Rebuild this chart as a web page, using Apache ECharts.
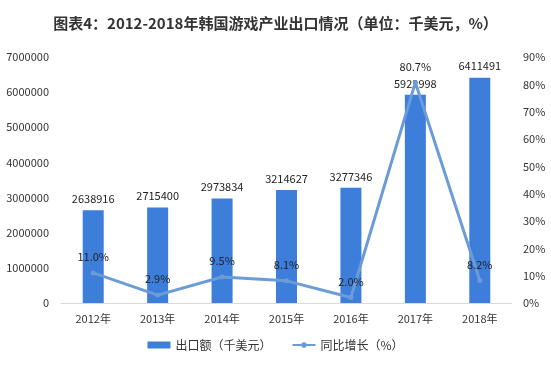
<!DOCTYPE html>
<html><head><meta charset="utf-8">
<script src="https://cdn.jsdelivr.net/npm/echarts@6/dist/echarts.min.js"></script>
<style>html,body{margin:0;padding:0;background:#fff}#c{width:551px;height:374px}</style>
</head><body><div id="c"></div>
<script>
const titleText = '图表4：2012-2018年韩国游戏产业出口情况（单位：千美元，%）';
const categories = ['2012年','2013年','2014年','2015年','2016年','2017年','2018年'];
const exportValues = [2638916, 2715400, 2973834, 3214627, 3277346, 5922998, 6411491];
const growthValues = [11.0, 2.9, 9.5, 8.1, 2.0, 80.7, 8.2];
const barName = '出口额（千美元）';
const lineName = '同比增长（%）';

const font = '"Microsoft YaHei","Noto Sans CJK SC",sans-serif';
const chart = echarts.init(document.getElementById('c'));
chart.setOption({
  animation: false,
  textStyle: {fontFamily: font},
  title: {
    text: titleText, left: 'center', top: 11,
    textStyle: {fontSize: 15, fontWeight: 'bold', color: '#333', fontFamily: font}
  },
  legend: {
    bottom: 18, left: 'center', itemGap: 20,
    textStyle: {fontSize: 12, color: '#333'},
    data: [
      {name: barName, icon: 'rect', itemStyle: {color: '#3d7edb'}},
      {name: lineName}
    ],
    itemWidth: 23, itemHeight: 7
  },
  grid: {left: 61, right: 39, top: 57, bottom: 71},
  xAxis: {
    type: 'category', data: categories,
    axisLine: {lineStyle: {color: '#d9d9d9'}},
    axisTick: {show: false},
    axisLabel: {fontSize: 11, color: '#333', margin: 10}
  },
  yAxis: [
    {type: 'value', min: 0, max: 7000000, interval: 1000000,
     splitLine: {show: false}, axisLine: {show: false}, axisTick: {show: false},
     axisLabel: {fontSize: 11, color: '#333', margin: 12, formatter: v => String(v)}},
    {type: 'value', min: 0, max: 90, interval: 10,
     splitLine: {show: false}, axisLine: {show: false}, axisTick: {show: false},
     axisLabel: {fontSize: 11, color: '#333', margin: 11, formatter: '{value}%'}}
  ],
  series: [
    {type: 'bar', name: barName, data: exportValues, barWidth: 21,
     itemStyle: {color: '#3d7edb'},
     label: {show: true, position: 'top', distance: 6, fontSize: 11, color: '#222'}},
    {type: 'line', name: lineName, yAxisIndex: 1, data: growthValues,
     lineStyle: {color: '#6c9cd8', width: 3},
     itemStyle: {color: '#6c9cd8'},
     symbol: 'circle', symbolSize: 5,
     label: {show: true, position: 'top', distance: 8, fontSize: 11, color: '#222',
       formatter: p => p.value.toFixed(1) + '%'}}
  ]
});
</script></body></html>
